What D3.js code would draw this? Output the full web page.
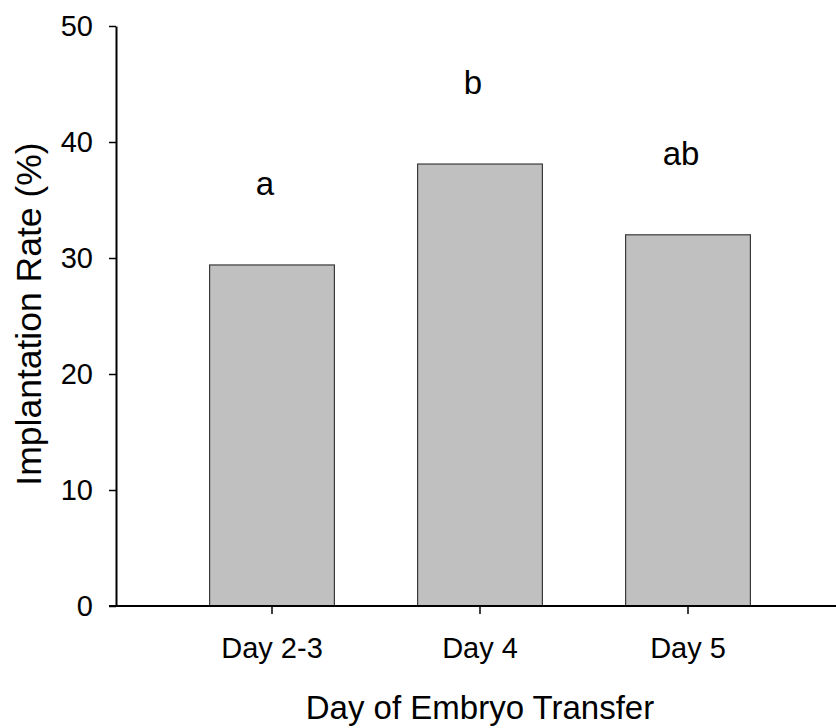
<!DOCTYPE html>
<html>
<head>
<meta charset="utf-8">
<script src="https://cdn.jsdelivr.net/npm/d3@7/dist/d3.min.js"></script>
<style>
  html, body { margin: 0; padding: 0; background: #fff; }
  svg { display: block; font-family: Arial, "Liberation Sans", sans-serif; }
</style>
</head>
<body>
<svg id="chart" width="836" height="728"></svg>
<script>
// Implantation rate by day of embryo transfer
const categories = ["Day 2-3", "Day 4", "Day 5"];
const rates = [29.4, 38.1, 32.0];
const letters = ["a", "b", "ab"];
const yTicks = [0, 10, 20, 30, 40, 50];

const svg = d3.select("#chart");

const x = d3.scaleBand()
  .domain(categories)
  .range([116, 844])
  .paddingInner(0.4)
  .paddingOuter(0.45);

const y = d3.scaleLinear()
  .domain([0, 50])
  .range([606, 26]);

// bars
svg.append("g")
  .selectAll("rect")
  .data(categories)
  .join("rect")
  .attr("x", d => x(d))
  .attr("y", (d, i) => y(rates[i]))
  .attr("width", x.bandwidth())
  .attr("height", (d, i) => y(0) - y(rates[i]))
  .attr("fill", "#c0c0c0")
  .attr("stroke", "#3a3a3a")
  .attr("stroke-width", 1.2);

// significance letters above bars
svg.append("g")
  .selectAll("text")
  .data(categories)
  .join("text")
  .attr("x", d => x(d) + x.bandwidth() / 2 - 7)
  .attr("y", (d, i) => y(rates[i]) - 70)
  .attr("text-anchor", "middle")
  .attr("font-size", 33)
  .attr("fill", "#000")
  .text((d, i) => letters[i]);

// y axis
const yAxis = svg.append("g")
  .attr("transform", "translate(116,0)")
  .call(d3.axisLeft(y).tickValues(yTicks).tickSize(7).tickPadding(16).tickSizeOuter(0));
yAxis.attr("font-size", null).attr("font-family", null);
yAxis.select(".domain").attr("stroke", "#000").attr("stroke-width", 2);
yAxis.selectAll(".tick line").attr("stroke", "#000").attr("stroke-width", 1.5);
yAxis.selectAll(".tick text")
  .style("font-size", "29px")
  .attr("fill", "#000");

// x axis
const xAxis = svg.append("g")
  .attr("transform", "translate(0,606)")
  .call(d3.axisBottom(x).tickSize(8).tickPadding(23).tickSizeOuter(0));
xAxis.attr("font-size", null).attr("font-family", null);
xAxis.select(".domain").attr("stroke", "#000").attr("stroke-width", 2.2)
  .attr("d", "M109,0H844");
xAxis.selectAll(".tick line").attr("stroke", "#000").attr("stroke-width", 1.5);
xAxis.selectAll(".tick text")
  .style("font-size", "29px")
  .attr("fill", "#000");

// axis titles
svg.append("text")
  .attr("x", 480)
  .attr("y", 719)
  .attr("text-anchor", "middle")
  .attr("font-size", 33)
  .attr("fill", "#000")
  .text("Day of Embryo Transfer");

svg.append("text")
  .attr("transform", "translate(41,314) rotate(-90)")
  .attr("text-anchor", "middle")
  .attr("font-size", 35.5)
  .attr("fill", "#000")
  .text("Implantation Rate (%)");
</script>
</body>
</html>
